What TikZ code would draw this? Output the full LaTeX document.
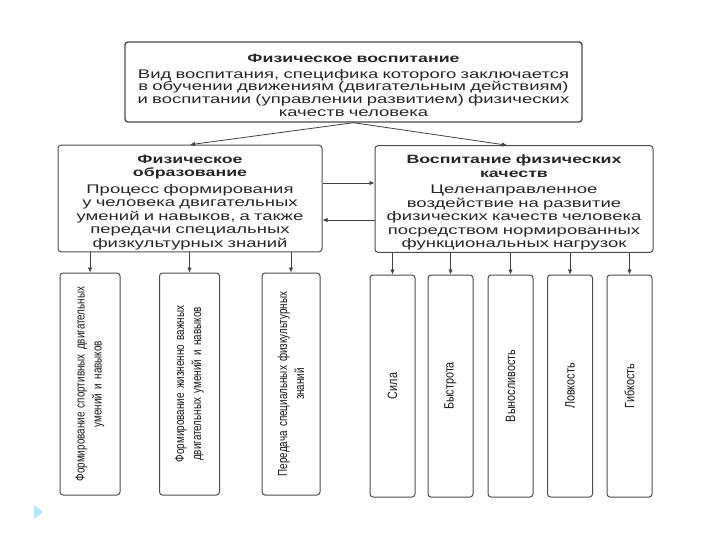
\documentclass[tikz,border=0pt]{standalone}
\usepackage{fontspec}
\setmainfont{Liberation Sans}
\newfontfamily\widefont[FakeStretch=1.48]{Liberation Sans}
\newfontfamily\narrowfont[FakeStretch=0.76]{Liberation Sans}
\newfontfamily\qualfont[FakeStretch=0.8]{Liberation Sans}
\usetikzlibrary{arrows.meta,calc,positioning}

\begin{document}
\begin{tikzpicture}[x=1pt, y=-1pt,
      box/.style={draw=black!70, rounded corners=3pt, line width=1pt,
        align=center, text=black!85, inner sep=2pt},
      headbox/.style={box, line width=1.4pt, minimum width=457pt, minimum height=80pt,
        text width=450pt, font=\widefont\fontsize{12.5}{12.6}\selectfont},
      midbox/.style={box, minimum height=105pt, text width=258pt,
        font=\widefont\fontsize{12.5}{13.5}\selectfont},
      skillbox/.style={box, rotate=90, minimum width=222pt, minimum height=60pt,
        text width=214pt, text=black!90, font=\narrowfont\fontsize{13}{17}\selectfont},
      qualbox/.style={skillbox, minimum height=45pt, font=\qualfont\fontsize{13.5}{17}\selectfont},
      arrow/.style={-{Latex[length=5pt,width=4.5pt]}, line width=0.8pt, draw=black!75}
    ]
    \useasboundingbox (0,0) rectangle (720,540);

    \node[headbox] (phys) at (353.5,82)
      {{\bfseries\fontsize{12}{13}\selectfont\rule{0pt}{15pt}Физическое воспитание}\\[3pt]
       Вид воспитания, специфика которого заключается\\
       в обучении движениям (двигательным действиям)\\
       и воспитании (управлении развитием) физических\\
       качеств человека};

    \node[midbox, minimum width=264pt] (edu) at (190,198.5)
      {{\bfseries\fontsize{12}{12.5}\selectfont\rule{0pt}{16pt}Физическое\\образование}\\[3pt]
       Процесс формирования\\
       у человека двигательных\\
       умений и навыков, а также\\
       передачи специальных\\
       физкультурных знаний};
    \node[midbox, minimum width=278pt, text width=272pt] (qual) at (514,199)
      {{\bfseries\fontsize{12}{12.5}\selectfont\rule{0pt}{16pt}Воспитание физических\\качеств}\\[3pt]
       Целенаправленное\\
       воздействие на развитие\\
       физических качеств человека\\
       посредством нормированных\\
       функциональных нагрузок};

    % knowledge branch
    \node[skillbox] (sport) at (90,384)
      {Формирование спортивных двигательных\\умений и навыков};
    \node[skillbox] (vital) at (189.5,384)
      {Формирование жизненно важных\\двигательных умений и навыков};
    \node[skillbox, minimum height=58pt] (know) at (291,384)
      {Передача специальных физкультурных\\знаний};

    % qualities branch
    \node[qualbox] (force) at (392.5,386) {Сила};
    \node[qualbox] (speed) at (450.5,386) {Быстрота};
    \node[qualbox] (endur) at (510.5,386) {Выносливость};
    \node[qualbox] (agile) at (570,386) {Ловкость};
    \node[qualbox] (flex) at (629.5,386) {Гибкость};

    \draw[arrow] (phys.south) -- (edu.north);
    \draw[arrow] (phys.south) -- ([xshift=-7pt]qual.north);
    \draw[arrow] ([yshift=15.5pt]edu.east) -- ([yshift=15.5pt]edu.east -| qual.west);
    \draw[arrow] ([yshift=-21.5pt]edu.east -| qual.west) -- ([yshift=-21.5pt]edu.east);

    \draw[arrow] (edu.south -| sport.east) -- (sport.east);
    \draw[arrow] (edu.south -| vital.east) -- (vital.east);
    \draw[arrow] (edu.south -| know.east) -- (know.east);
    \draw[arrow] (qual.south -| force.east) -- (force.east);
    \draw[arrow] (qual.south -| speed.east) -- (speed.east);
    \draw[arrow] (qual.south -| endur.east) -- (endur.east);
    \draw[arrow] (qual.south -| agile.east) -- (agile.east);
    \draw[arrow] (qual.south -| flex.east) -- (flex.east);

    \fill[blue!35!cyan!30] (34,505) -- (43,512) -- (34,519) -- cycle;
  \end{tikzpicture}
\end{document}
